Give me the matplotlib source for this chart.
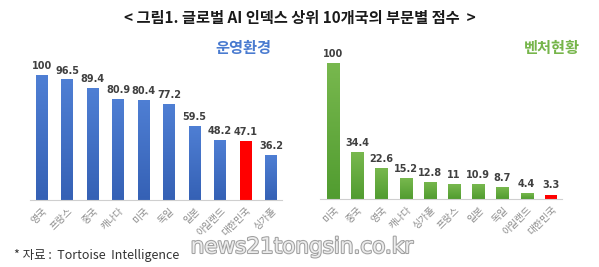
import numpy as np
import matplotlib.pyplot as plt
import matplotlib.patheffects as pe

plt.rcParams['font.family'] = ['Noto Sans CJK KR', 'DejaVu Sans']

# 운영환경 data
env_countries = ['영국', '프랑스', '중국', '캐나다', '미국', '독일', '일본', '아일랜드', '대한민국', '싱가폴']
env_scores = [100, 96.5, 89.4, 80.9, 80.4, 77.2, 59.5, 48.2, 47.1, 36.2]
env_labels = ['100', '96.5', '89.4', '80.9', '80.4', '77.2', '59.5', '48.2', '47.1', '36.2']

# 벤처현황 data
ven_countries = ['미국', '중국', '영국', '캐나다', '싱가폴', '프랑스', '일본', '독일', '아일랜드', '대한민국']
ven_scores = [100, 34.4, 22.6, 15.2, 12.8, 11, 10.9, 8.7, 4.4, 3.3]
ven_labels = ['100', '34.4', '22.6', '15.2', '12.8', '11', '10.9', '8.7', '4.4', '3.3']

W, H = 599, 267
fig = plt.figure(figsize=(W / 100, H / 100), dpi=100)


def px_axes(x0, x1, ybase, ytop):
    return fig.add_axes([x0 / W, (H - ybase) / H, (x1 - x0) / W, (ybase - ytop) / H])


def gradient_bars(ax, names, vals, labels, top_c, bot_c, width, highlight):
    x = np.arange(len(vals))
    bars = ax.bar(x, vals, width=width, color='none', edgecolor='none')
    grad = np.linspace(0, 1, 100).reshape(-1, 1)
    cmap = plt.matplotlib.colors.LinearSegmentedColormap.from_list('g', [bot_c, top_c])
    for i, b in enumerate(bars):
        if names[i] == highlight:
            b.set_facecolor('#ff0000')
            continue
        im = ax.imshow(grad, cmap=cmap, aspect='auto', origin='lower',
                       extent=[b.get_x(), b.get_x() + b.get_width(), 0, b.get_height()],
                       zorder=2)
        im.set_clip_path(b)
    for i, v in enumerate(vals):
        ax.text(x[i], v + 3, labels[i], ha='center', va='bottom', fontsize=7,
                fontweight='bold', color='#404040', family=['DejaVu Sans'])
    ax.set_xticks(x)
    ax.set_xticklabels(names, rotation=45, ha='right', rotation_mode='anchor',
                       fontsize=7, color='#8c8c8c')
    ax.tick_params(axis='x', length=0, pad=4)
    ax.set_yticks([])
    for s in ['top', 'right', 'left']:
        ax.spines[s].set_visible(False)
    ax.spines['bottom'].set_color('#cfcfcf')
    ax.set_ylim(0, 110)


ax1 = px_axes(30, 282, 200, 62.5)
gradient_bars(ax1, env_countries, env_scores, env_labels, '#4f7fd4', '#3561b5', 0.47, '대한민국')
ax1.set_xlim(-0.47, 9.43)

ax2 = px_axes(320, 562, 199, 49.4)
gradient_bars(ax2, ven_countries, ven_scores, ven_labels, '#78b84e', '#519c30', 0.5, '대한민국')
ax2.set_xlim(-0.54, 9.46)

fig.text(0.5, 1 - 18 / H, '< 그림1. 글로벌 AI 인덱스 상위 10개국의 부문별 점수  >', ha='center', va='center',
         fontsize=11, fontweight='bold', color='#1a1a1a')
fig.text(243 / W, 1 - 48 / H, '운영환경', ha='center', va='center', fontsize=11,
         fontweight='bold', color='#4a7bd0')
fig.text(552 / W, 1 - 48 / H, '벤처현황', ha='center', va='center', fontsize=11,
         fontweight='bold', color='#76b54a')
fig.text(14 / W, 1 - 256 / H, '* 자료 :  Tortoise  Intelligence', ha='left', va='center',
         fontsize=9, color='#333333')
fig.text(302 / W, 1 - 247 / H, 'news21tongsin.co.kr', ha='center', va='center', fontsize=15.5,
         color='#ececec', family=['DejaVu Sans'],
         path_effects=[pe.withStroke(linewidth=1.5, foreground='#a0a0a0')])

fig.savefig('out.png', dpi=100)
